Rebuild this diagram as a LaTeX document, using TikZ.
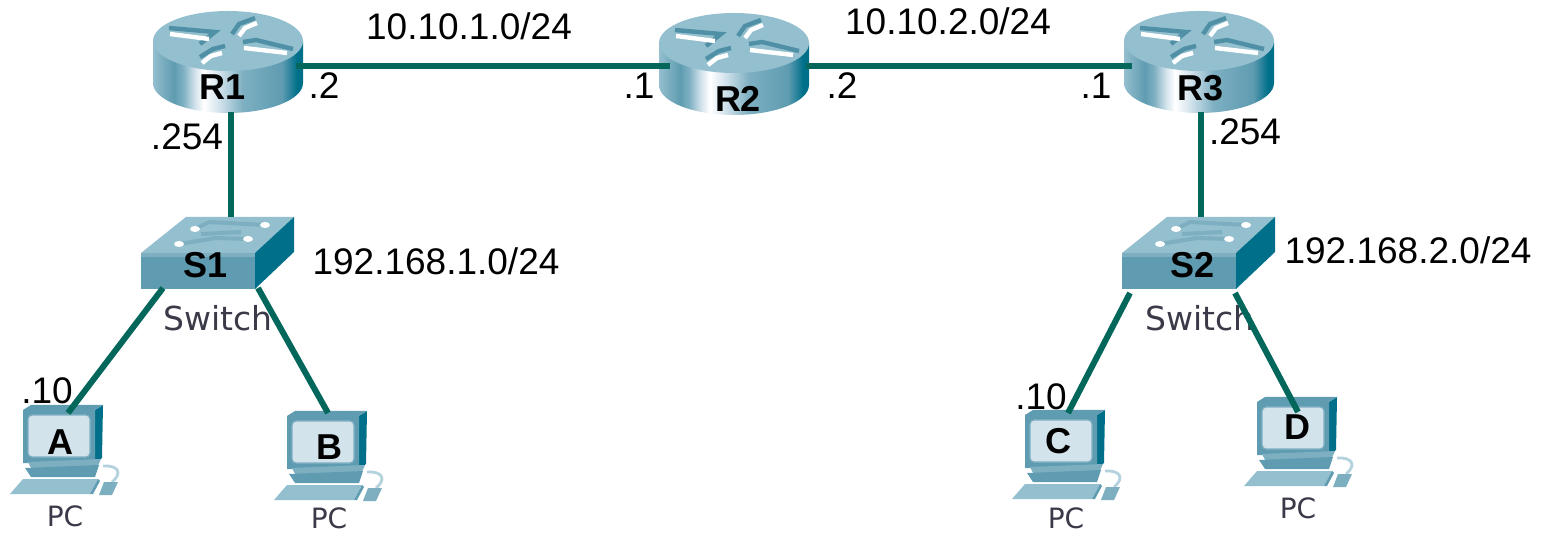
\documentclass[tikz,border=0pt]{standalone}
\usepackage{fontspec}
\setmainfont{Liberation Sans}
\newfontfamily\iconfont{DejaVu Sans}
\definecolor{linkteal}{HTML}{04675C}
\definecolor{icontop}{HTML}{93BFCE}
\definecolor{iconface}{HTML}{5F9CB1}
\definecolor{icondark}{HTML}{00708A}
\definecolor{iconmark}{HTML}{4F90A6}
\definecolor{iconscreen}{HTML}{D3E3EC}
\definecolor{iconfaint}{HTML}{7DAFC1}
\definecolor{icontext}{HTML}{3A3A48}
\pgfdeclarehorizontalshading{routerside}{100bp}{
    color(0bp)=(icontop);
    color(25bp)=(icontop);
    color(28bp)=(iconfaint);
    color(32bp)=(iconface);
    color(35bp)=(iconfaint);
    color(39bp)=(iconscreen);
    color(42bp)=(white);
    color(47bp)=(iconscreen);
    color(55bp)=(iconfaint);
    color(68bp)=(iconface);
    color(73bp)=(icondark);
    color(75bp)=(icondark);
    color(100bp)=(icondark)}
\tikzset{
    link/.style={linkteal, line width=3pt},
    addr/.style={font=\fontsize{18.5}{20}\selectfont, anchor=base, inner sep=0pt},
    devlabel/.style={font=\fontsize{18}{20}\selectfont\bfseries, inner sep=0pt},
    switchtext/.style={font=\iconfont\fontsize{16.5}{18}\selectfont, text=icontext, inner sep=0pt},
    pctext/.style={font=\iconfont\fontsize{14}{16}\selectfont, text=icontext, inner sep=0pt},
    routerpic/.pic={
        \shade [shading=routerside]
            (0,30) -- (0,72) .. controls (0,88.5) and (33.6,102) .. (75,102)
            .. controls (116.4,102) and (150,88.5) .. (150,72) -- (150,30) -- cycle;
        \fill [icontop] (75,30) ellipse [x radius=75, y radius=30];
        % arrows on the lid
        \draw [iconmark, line width=2.2pt] (16,17) -- (62,21) -- (47,33);
        \draw [white, line width=2.2pt] (17,23) -- (56,28);
        \draw [iconmark, line width=2.2pt] (79,23) -- (86,13) -- (102,7);
        \draw [white, line width=2.2pt] (86,25) -- (92,17) -- (104,12);
        \draw [iconmark, line width=2.2pt] (47,46) -- (60,38) -- (72,35);
        \draw [white, line width=2.2pt] (49,52) -- (58,45) -- (69,42);
        \draw [iconmark, line width=2.2pt] (90,31) -- (103,29) -- (140,38);
        \draw [white, line width=2.2pt] (91,37) -- (134,42);
    },
    switchpic/.pic={
        \fill [icontop] (0,36) -- (45,0) -- (153,0) -- (114,36) -- cycle;
        \fill [iconface] (0,36) rectangle (114,72);
        \fill [iconfaint] (0,36) rectangle (114,40);
        \fill [icondark] (114,36) -- (153,0) -- (153,35) -- (114,72) -- cycle;
        % ports on the lid
        \draw [iconfaint, line width=2pt] (54,12) -- (68,5) -- (124,8);
        \draw [iconfaint, line width=2pt] (38,27) -- (75,21) -- (107,22);
        \draw [iconfaint, line width=2pt] (60,17) -- (100,15);
        \fill [white] (54,12) ellipse [x radius=5, y radius=3];
        \fill [white] (124,8) ellipse [x radius=5, y radius=3];
        \fill [white] (38,27) ellipse [x radius=5, y radius=3];
        \fill [white] (107,22) ellipse [x radius=5, y radius=3];
    },
    pcpic/.pic={
        \fill [icondark] (72,5) -- (80,0) -- (79,53) -- (72,58) -- cycle;
        \fill [iconface] (0,5) -- (8,0) -- (80,0) -- (72,5) -- (72,58) -- (0,58) -- cycle;
        \fill [iconscreen, draw=iconfaint, line width=0.6pt, rounded corners=2pt] (5,10) rectangle (67,52);
        \fill [iconfaint] (5,57) -- (78,54) -- (74,63) -- (8,63) -- cycle;
        \fill [iconface] (2,63) -- (76,60) -- (72,72) -- (8,72) -- cycle;
        \draw [icontop!70!white, line width=1.4pt] (80,61) .. controls (95,60) and (100,68) .. (89,77);
        \fill [icontop] (-13,89) -- (0,74) -- (75,74) -- (67,89) -- cycle;
        \fill [iconface] (67,89) -- (75,74) -- (77,76) -- (70,89) -- cycle;
        \fill [iconfaint] (76,90) -- (81,77) -- (95,77) -- (89,90) -- cycle;
    }
}
\begin{document}
\begin{tikzpicture}[x=0.5pt, y=-0.5pt]
    \useasboundingbox (0,0) rectangle (1545,533);
    % Draw devices
    \pic at (153,11) {routerpic};
    \pic at (659,13) {routerpic};
    \pic at (1124,11) {routerpic};
    \pic at (141,217) {switchpic};
    \pic at (1122,217) {switchpic};
    \pic at (23,405) {pcpic};
    \pic at (287,411) {pcpic};
    \pic at (1025,410) {pcpic};
    \pic at (1257,397) {pcpic};
    \node [switchtext] (swa) at (218,318) {Switch};
    \node [switchtext] (swb) at (1200,318) {Switch};
    \node [pctext] (pca) at (65,516) {PC};
    \node [pctext] (pcb) at (329,518) {PC};
    \node [pctext] (pcc) at (1066,518) {PC};
    \node [pctext] (pcd) at (1298,508) {PC};
    % Draw links
    \coordinate (r1e) at (296,66);
    \coordinate (r2w) at (670,66);
    \coordinate (r2e) at (806,66);
    \coordinate (r3w) at (1132,66);
    \coordinate (r1s) at (231,112);
    \coordinate (s1n) at (231,217);
    \coordinate (r3s) at (1201,112);
    \coordinate (s2n) at (1201,217);
    \coordinate (s1a) at (163,288);
    \coordinate (s1b) at (258,288);
    \coordinate (s2c) at (1130,293);
    \coordinate (s2d) at (1235,293);
    \coordinate (hosta) at (68,413);
    \coordinate (hostb) at (328,413);
    \coordinate (hostc) at (1068,413);
    \coordinate (hostd) at (1298,412);
    \draw [link] (r1e) -- (r2w);
    \draw [link] (r2e) -- (r3w);
    \draw [link] (r1s) -- (s1n);
    \draw [link] (r3s) -- (s2n);
    \draw [link] (s1a) -- (hosta);
    \draw [link] (s1b) -- (hostb);
    \draw [link] (s2c) -- (hostc);
    \draw [link] (s2d) -- (hostd);
    % Device names
    \node [devlabel] (R1) at (223,87) {R1};
    \node [devlabel] (R2) at (738,99) {R2};
    \node [devlabel] (R3) at (1200,88) {R3};
    \node [devlabel] (S1) at (206,265) {S1};
    \node [devlabel] (S2) at (1192,265) {S2};
    \node [devlabel] (A) at (60,442) {A};
    \node [devlabel] (B) at (329,447) {B};
    \node [devlabel] (C) at (1058,441) {C};
    \node [devlabel] (D) at (1297,427) {D};
    % Addresses
    \node [addr] (neta) at (469,40) {10.10.1.0/24};
    \node [addr] (netb) at (948,35) {10.10.2.0/24};
    \node [addr] (netc) at (436,275) {192.168.1.0/24};
    \node [addr] (netd) at (1408,264) {192.168.2.0/24};
    \node [addr] (ipa) at (324,99) {.2};
    \node [addr] (ipb) at (639,99) {.1};
    \node [addr] (ipc) at (842,99) {.2};
    \node [addr] (ipd) at (1096,99) {.1};
    \node [addr] (ipe) at (187,150) {.254};
    \node [addr] (ipf) at (1245,145) {.254};
    \node [addr] (ipg) at (47,404) {.10};
    \node [addr] (iph) at (1041,410) {.10};
\end{tikzpicture}
\end{document}
